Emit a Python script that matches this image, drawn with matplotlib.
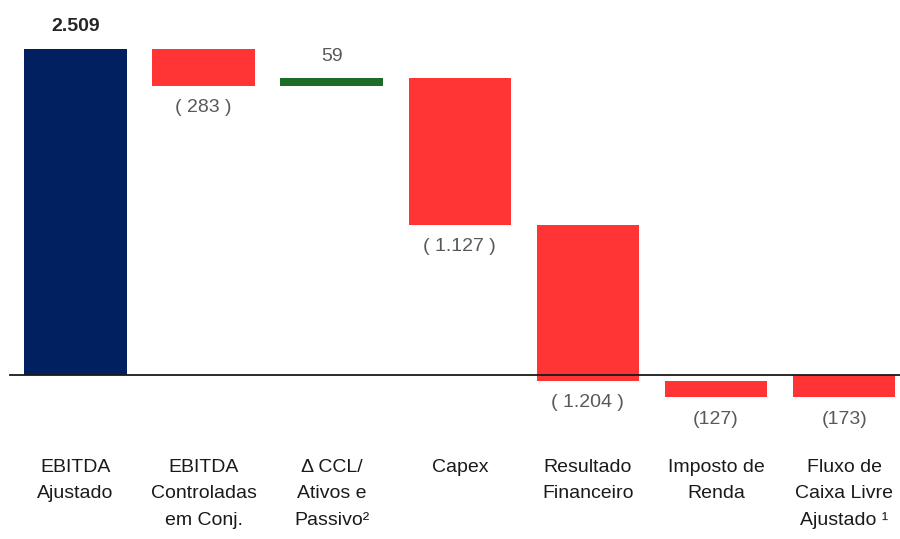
import matplotlib
matplotlib.use("Agg")
import matplotlib.pyplot as plt
import numpy as np

plt.rcParams['font.family'] = ['Liberation Sans', 'DejaVu Sans']

# Dados da ponte (R$ milhões)
categorias = ["EBITDA\nAjustado", "EBITDA\nControladas\nem Conj.", "Δ CCL/\nAtivos e\nPassivo²",
              "Capex", "Resultado\nFinanceiro", "Imposto de\nRenda", "Fluxo de\nCaixa Livre\nAjustado ¹"]
valores = [2509, -283, 59, -1127, -1204, -127, -173]
rotulos = ["2.509", "( 283 )", "59", "( 1.127 )", "( 1.204 )", "(127)", "(173)"]
tipo = ["total", "delta", "delta", "delta", "delta", "delta", "total"]

AZUL = "#002060"
VERMELHO = "#FF3535"
VERDE = "#1E6B25"
CINZA = "#595959"

fig = plt.figure(figsize=(9, 5.39), dpi=100)
ax = fig.add_axes([0, 0, 1, 1])

x = np.arange(len(valores))
acumulado = 0
for i, (v, t) in enumerate(zip(valores, tipo)):
    if t == "total" and i == 0:
        base, altura = 0, v
        acumulado = v
    elif t == "total":
        base, altura = 0, v
    else:
        base, altura = acumulado, v
        acumulado += v
    if i == 0:
        cor = AZUL
    elif v >= 0:
        cor = VERDE
    else:
        cor = VERMELHO
    ax.bar(x[i], altura, bottom=base, width=0.8, color=cor, edgecolor="none")

    topo = max(base, base + altura)
    fundo = min(base, base + altura)
    if v >= 0:
        ax.annotate(rotulos[i], (x[i], topo), xytext=(0, 22), textcoords="offset pixels",
                    ha="center", va="center", fontsize=14,
                    color="#262626" if i == 0 else CINZA,
                    fontweight="bold" if i == 0 else "normal")
    else:
        ax.annotate(rotulos[i], (x[i], fundo), xytext=(0, -22), textcoords="offset pixels",
                    ha="center", va="center", fontsize=14, color=CINZA)

    ax.annotate(categorias[i], (x[i], 0), xytext=(0, -84), textcoords="offset pixels",
                ha="center", va="top", fontsize=14, color="#1a1a1a", linespacing=1.72)

ax.axhline(0, xmin=0.011, xmax=1, color="#1a1a1a", linewidth=1.3)

ax.set_xlim(-0.589, 6.436)
ax.set_ylim(-1262, 2886)
ax.axis("off")

plt.savefig("out.png", dpi=100)
